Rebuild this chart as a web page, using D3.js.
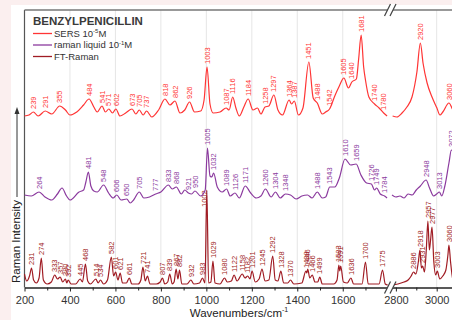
<!DOCTYPE html>
<html>
<head>
<meta charset="utf-8">
<script src="https://cdnjs.cloudflare.com/ajax/libs/d3/7.8.5/d3.min.js"></script>
<style>
body{margin:0;background:#fbefef;}
svg{display:block;font-family:"Liberation Sans",Arial,sans-serif;}
.axis .domain{stroke:#222;stroke-width:1.5;}
.axis line{stroke:#222;}
.axis text{font-size:11px;fill:#333;font-family:"Liberation Sans",Arial,sans-serif;}
</style>
</head>
<body>
<div id="chart"></div>
<script>
// spectra: [wavenumber, intensity above own baseline]
var sersSpectrum = [[200,3.5],[220,4.5],[239,7.5],[260,3.5],[291,8.5],[320,5.5],[355,13.5],[380,9.5],[400,4.5],[430,7.5],[460,14.5],[484,20.5],[505,12.5],[520,7.5],[541,13.5],[556,7.5],[571,10.5],[587,6.5],[602,10.5],[620,3.5],[645,6.5],[673,10.5],[690,5.5],[705,9.5],[722,4.5],[737,8.5],[760,2.5],[790,9.5],[818,20.5],[840,14.5],[862,18.5],[884,6.5],[905,9.5],[926,17.5],[948,7.5],[975,8.5],[990,19.5],[1003,52.5],[1016,15.5],[1030,6.5],[1060,7.5],[1087,11.5],[1100,9.5],[1116,22.5],[1130,11.5],[1145,3.5],[1165,12.5],[1184,20.5],[1205,9.5],[1225,11.5],[1240,5.5],[1258,12.5],[1275,13.5],[1297,24.5],[1315,9.5],[1335,4.5],[1364,19.5],[1375,15.5],[1387,18.5],[1405,4.5],[1425,11.5],[1451,57.5],[1470,21.5],[1488,16.5],[1510,5.5],[1525,7.5],[1542,10.5],[1565,23.5],[1585,33.5],[1605,41.5],[1625,31.5],[1640,37.5],[1660,40.5],[1670,60.5],[1681,84.5],[1692,52.5],[1700,39.5],[1715,22.5],[1740,15.5],[1760,11.5],[1780,6.5],[1795,3.5],
  [2784,3.5],[2805,2.5],[2830,6.5],[2854,12.5],[2879,22.5],[2903,47.5],[2920,76.5],[2933,56.5],[2953,36.5],[2977,22.5],[3001,11.5],[3016,4.5],[3030,7.5],[3060,16.5],[3080,9.5],[3100,6.5]];
var sersPeaks = [239,291,355,484,541,571,602,673,705,737,818,862,926,1003,1087,1116,1184,1258,1297,1364,1387,1451,1488,1542,1605,1640,1681,1740,1780,2920,3060];

var ramanSpectrum = [[200,7.5],[230,6.5],[264,10.5],[290,5.5],[320,2.5],[345,8.5],[365,14.5],[385,6.5],[400,2.5],[440,10.5],[460,12.5],[470,20.5],[481,30.5],[492,16.5],[505,11.5],[520,10.5],[548,17.5],[570,9.5],[590,4.5],[606,7.5],[625,2.5],[650,3.5],[665,-0.5],[680,2.5],[705,10.5],[725,4.5],[750,5.5],[777,8.5],[800,10.5],[833,17.5],[850,13.5],[868,15.5],[890,8.5],[905,12.5],[921,9.5],[935,8.5],[950,11.5],[975,6.5],[995,12.5],[1005,54.5],[1016,26.5],[1024,25.5],[1032,29.5],[1048,15.5],[1070,10.5],[1089,13.5],[1105,6.5],[1126,9.5],[1145,4.5],[1171,16.5],[1195,9.5],[1220,4.5],[1240,6.5],[1260,13.5],[1285,5.5],[1304,10.5],[1325,4.5],[1348,8.5],[1370,7.5],[1395,3.5],[1420,6.5],[1445,7.5],[1465,4.5],[1488,10.5],[1510,4.5],[1525,5.5],[1543,15.5],[1565,15.5],[1585,24.5],[1610,43.5],[1635,37.5],[1659,38.5],[1680,27.5],[1705,19.5],[1726,18.5],[1740,12.5],[1749,14.5],[1765,8.5],[1784,6.5],[1795,4.5],
  [2781,7.5],[2800,5.5],[2820,6.5],[2840,4.5],[2860,8.5],[2880,7.5],[2900,12.5],[2920,16.5],[2948,22.5],[2965,14.5],[2985,6.5],[3000,8.5],[3013,10.5],[3025,6.5],[3040,16.5],[3060,39.5],[3072,52.5],[3090,44.5]];
var ramanPeaks = [264,481,548,606,650,705,777,833,868,921,950,1005,1032,1089,1126,1171,1260,1304,1348,1488,1543,1610,1659,1726,1749,1784,2948,3013,3072];

var ftSpectrum = [[200,13.5],[210,6.5],[222,11.5],[231,19.5],[240,7.5],[252,4.5],[264,9.5],[274,29.5],[283,7.5],[300,3.5],[318,5.5],[333,12.5],[345,8.5],[357,10.5],[368,5.5],[380,8.5],[386,4.5],[392,7.5],[405,3.5],[425,3.5],[445,8.5],[455,5.5],[468,23.5],[478,6.5],[490,3.5],[514,8.5],[524,4.5],[534,7.5],[548,3.5],[565,7.5],[582,30.5],[592,11.5],[601,15.5],[611,7.5],[621,14.5],[631,4.5],[648,4.5],[661,9.5],[672,3.5],[700,3.5],[712,7.5],[721,20.5],[731,6.5],[741,11.5],[752,3.5],[780,3.5],[797,5.5],[807,9.5],[817,3.5],[830,5.5],[839,13.5],[850,3.5],[858,5.5],[867,18.5],[875,8.5],[882,17.5],[892,3.5],[915,3.5],[932,7.5],[945,3.5],[970,4.5],[983,9.5],[994,4.5],[1002,97.5],[1010,4.5],[1020,5.5],[1029,26.5],[1038,4.5],[1060,3.5],[1080,9.5],[1092,5.5],[1110,6.5],[1122,12.5],[1135,6.5],[1158,13.5],[1170,9.5],[1182,11.5],[1192,8.5],[1201,16.5],[1215,5.5],[1232,8.5],[1245,18.5],[1258,6.5],[1275,7.5],[1292,31.5],[1303,7.5],[1315,6.5],[1328,16.5],[1340,4.5],[1358,4.5],[1370,7.5],[1385,3.5],[1420,4.5],[1438,16.5],[1442,14.5],[1446,18.5],[1455,9.5],[1466,12.5],[1478,5.5],[1490,5.5],[1499,10.5],[1510,3.5],[1560,3.5],[1575,7.5],[1583,22.5],[1587,16.5],[1591,21.5],[1603,5.5],[1620,4.5],[1636,9.5],[1648,3.5],[1685,3.5],[1700,25.5],[1712,3.5],[1760,3.5],[1775,17.5],[1787,3.5],[1798,2.5],
  [2781,2.5],[2810,3.5],[2840,5.5],[2860,7.5],[2875,11.5],[2886,15.5],[2898,13.5],[2910,25.5],[2918,37.5],[2925,19.5],[2931,21.5],[2940,15.5],[2949,37.5],[2957,66.5],[2964,37.5],[2970,47.5],[2977,60.5],[2986,25.5],[2995,12.5],[3003,16.5],[3015,8.5],[3030,11.5],[3045,17.5],[3055,32.5],[3060,42.5],[3068,25.5],[3080,7.5],[3095,4.5]];
var ftPeaks = [231,274,333,357,380,392,445,468,514,534,582,601,621,661,721,741,807,839,867,882,932,983,1002,1029,1080,1122,1158,1182,1201,1245,1292,1328,1370,1438,1446,1466,1499,1583,1591,1636,1700,1775,2886,2918,2931,2957,2977,3003,3060];

var lowTicks = [200,400,600,800,1000,1200,1400,1600];
var lowMinorTicks = [300,500,700,900,1100,1300,1500,1700];
var highTicks = [2800,3000];
var highMinorTicks = [2900];

var legendNames = ["SERS 10", "raman liquid 10", "FT-Raman"];
var legendExponents = ["-5", "-1", ""];

drawSpectra("#chart");

function drawSpectra(selector){
    var width = 452, height = 320, top = 10, bottom = 287.5, left = 24.5;
    var svg = d3.select(selector).append("svg")
        .attr("width", width).attr("height", height);
    svg.append("rect").attr("x", 11).attr("y", 5)
        .attr("width", width - 11).attr("height", height - 5).attr("fill", "#fff");

    // broken x axis: two linear pieces
    var xLow = d3.scaleLinear().domain([200, 1800]).range([left, 388.2]);
    var xHigh = d3.scaleLinear().domain([2780, 3100]).range([391.8, 457.1]);
    var y = d3.scaleLinear().domain([0, 280]).range([bottom, 7.5]);
    function xPos(w){ return w < 2300 ? xLow(w) : xHigh(w); }

    var grid = svg.append("g").attr("stroke", "#e6e6e6").attr("stroke-width", 1);
    lowTicks.slice(1).map(xLow).concat(highTicks.slice(1).map(xHigh)).forEach(function(gx){
        grid.append("line").attr("x1", gx).attr("x2", gx).attr("y1", top).attr("y2", bottom);
    });

    // frame
    svg.append("line").attr("x1", left).attr("x2", left).attr("y1", top).attr("y2", bottom)
        .attr("stroke", "#555").attr("stroke-width", 1.2);
    svg.append("line").attr("x1", left).attr("x2", xLow(1800)).attr("y1", top).attr("y2", top)
        .attr("stroke", "#777").attr("stroke-width", 1.5);
    svg.append("line").attr("x1", xHigh(2780)).attr("x2", width).attr("y1", top).attr("y2", top)
        .attr("stroke", "#777").attr("stroke-width", 1.5);

    var spectra = [
        {data: ftSpectrum, peaks: ftPeaks, color: "#a01c24", offset: 0, labelTop: 207},
        {data: ramanSpectrum, peaks: ramanPeaks, color: "#8b3a9e", offset: 85},
        {data: sersSpectrum, peaks: sersPeaks, color: "#ff3535", offset: 168}
    ];

    var line = d3.line()
        .x(function(d){ return xPos(d[0]); })
        .y(function(d){ return y(d[1]); })
        .curve(d3.curveMonotoneX);

    spectra.forEach(function(s){
        var g = svg.append("g");
        var shifted = s.data.map(function(p){ return [p[0], p[1] + s.offset]; });
        [shifted.filter(function(p){ return p[0] < 2300; }),
         shifted.filter(function(p){ return p[0] > 2300; })].forEach(function(part){
            g.append("path").datum(part).attr("d", line)
                .attr("fill", "none").attr("stroke", s.color).attr("stroke-width", 1.2);
        });
        s.peaks.forEach(function(w){
            var p = s.data.find(function(d){ return d[0] === w; });
            if (!p) p = s.data[d3.minIndex(s.data, function(d){ return Math.abs(d[0] - w); })];
            var lx = xPos(w), ly = y(p[1] + s.offset) - 3;
            if (s.labelTop && ly < s.labelTop) { ly = s.labelTop; lx -= 2; }
            g.append("text")
                .attr("transform", "translate(" + lx + "," + ly + ") rotate(-90)")
                .attr("dy", "0.35em")
                .attr("font-size", "7.5px")
                .attr("fill", s.color)
                .text(w);
        });
    });

    // axes
    var fmt = d3.format("d");
    var axisG = svg.append("g").attr("class", "axis").attr("transform", "translate(0," + bottom + ")");
    axisG.append("g").call(d3.axisBottom(xLow).tickValues(lowTicks).tickFormat(fmt)
        .tickSize(4).tickSizeOuter(0).tickPadding(5));
    axisG.append("g").call(d3.axisBottom(xHigh).tickValues(highTicks).tickFormat(fmt)
        .tickSize(4).tickSizeOuter(0).tickPadding(5));
    axisG.append("g").call(d3.axisBottom(xLow).tickValues(lowMinorTicks).tickSize(3).tickFormat(""))
        .select(".domain").remove();
    axisG.append("g").call(d3.axisBottom(xHigh).tickValues(highMinorTicks).tickSize(3).tickFormat(""))
        .select(".domain").remove();

    // break marks
    [top, bottom].forEach(function(by){
        svg.append("path")
            .attr("d", "M385," + (by + 6) + "L390.5," + (by - 6) + "L396," + (by - 6) + "L390.5," + (by + 6) + "Z")
            .attr("fill", "#fff");
        [387.5, 393].forEach(function(bx){
            svg.append("line").attr("x1", bx - 3).attr("x2", bx + 3)
                .attr("y1", by + 6).attr("y2", by - 6)
                .attr("stroke", "#444").attr("stroke-width", 1.2);
        });
    });

    // axis titles
    var xt = svg.append("text").attr("x", 239).attr("y", 317).attr("text-anchor", "middle")
        .attr("font-size", "11.5px").attr("fill", "#222");
    xt.append("tspan").text("Wavenumbers/cm");
    xt.append("tspan").attr("font-size", "7px").attr("dy", -5).text("-1");
    svg.append("text").attr("transform", "translate(20,241.5) rotate(-90)")
        .attr("text-anchor", "middle").attr("font-size", "11.5px").attr("fill", "#222")
        .text("Raman Intensity");
    svg.append("line").attr("x1", 17).attr("x2", 17).attr("y1", 197).attr("y2", 112)
        .attr("stroke", "#333").attr("stroke-width", 1);
    svg.append("path").attr("d", "M17,107L14.5,114L19.5,114Z").attr("fill", "#333");

    // legend
    var legend = svg.append("g");
    legend.append("text").attr("x", 33).attr("y", 25)
        .attr("font-size", "11.5px").attr("font-weight", "bold").attr("fill", "#3a3a3a")
        .text("BENZYLPENICILLIN");
    var legendColors = [spectra[2].color, spectra[1].color, spectra[0].color];
    legendNames.forEach(function(name, i){
        var ly = 33.5 + i * 11.5;
        legend.append("line").attr("x1", 33).attr("x2", 52).attr("y1", ly).attr("y2", ly)
            .attr("stroke", legendColors[i]).attr("stroke-width", 1.3);
        var t = legend.append("text").attr("x", 54).attr("y", ly + 3.3)
            .attr("font-size", "9.5px").attr("fill", "#333");
        t.append("tspan").text(name);
        if (legendExponents[i]) {
            t.append("tspan").attr("font-size", "6px").attr("dy", -3.5).text(legendExponents[i]);
            t.append("tspan").attr("dy", 3.5).text("M");
        }
    });
}
</script>
</body>
</html>
